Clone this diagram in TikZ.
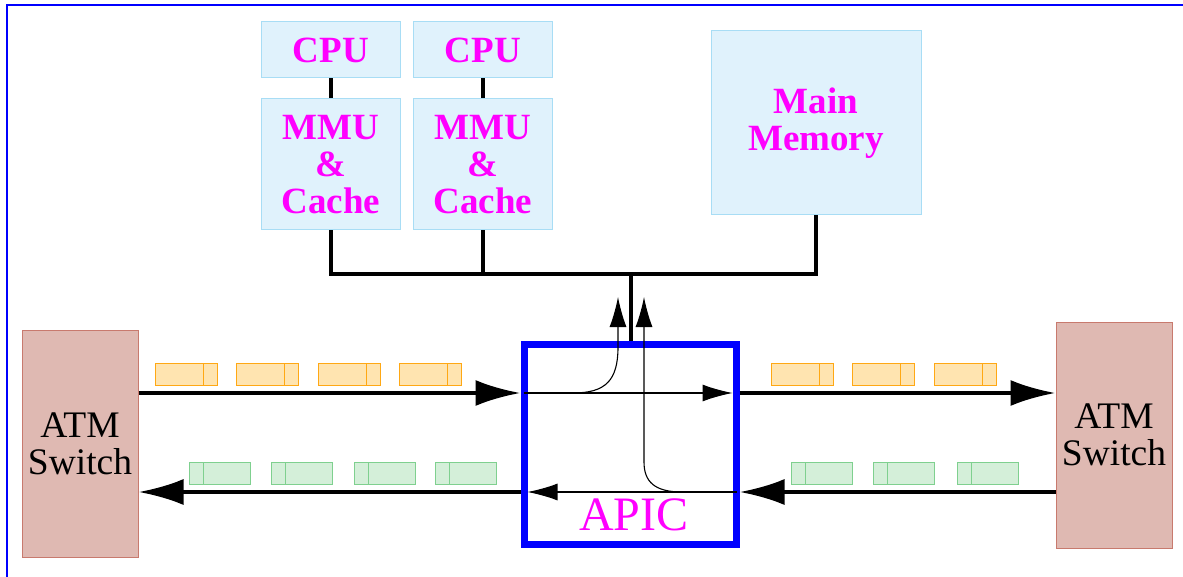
\documentclass[tikz,border=0pt]{standalone}
\usepackage{fontspec}
\setmainfont{Liberation Serif}
\usetikzlibrary{arrows.meta}
\definecolor{boxfill}{RGB}{224,242,252}
\definecolor{boxline}{RGB}{168,221,245}
\definecolor{atmfill}{RGB}{223,185,178}
\definecolor{atmline}{RGB}{200,122,110}
\definecolor{orfill}{RGB}{255,228,176}
\definecolor{orline}{RGB}{255,168,20}
\definecolor{grfill}{RGB}{212,239,217}
\definecolor{grline}{RGB}{127,208,143}
\definecolor{mag}{RGB}{255,0,255}
\definecolor{frameblue}{RGB}{0,0,255}
\tikzset{
  unit/.style={draw=boxline,fill=boxfill,line width=1pt,inner sep=0pt,align=center,
    text=mag,font=\fontsize{37}{37}\selectfont\bfseries},
  atm/.style={draw=atmline,fill=atmfill,line width=1pt,inner sep=0pt,align=center,
    minimum width=116pt,font=\fontsize{37.5}{37}\selectfont},
  apicbox/.style={draw=frameblue,line width=7pt,minimum width=212pt,minimum height=200pt,inner sep=0pt},
  busline/.style={line width=4pt},
  bigarrow/.style={line width=4pt,-{Latex[length=45pt,width=26pt]}},
  thinarrow/.style={line width=1.1pt,-{Latex[length=30pt,width=17pt]}},
  orcell/.style={draw=orline,fill=orfill,line width=1pt},
  grcell/.style={draw=grline,fill=grfill,line width=1pt},
}
\begin{document}
\begin{tikzpicture}[x=1pt,y=-1pt]
\useasboundingbox (0,0) rectangle (1183,577);
\draw[frameblue,line width=2pt] (7,577) -- (7,5) -- (1183,5);

% units
\node[unit,minimum width=139pt,minimum height=56pt] (cpu1) at (331,50) {CPU};
\node[unit,minimum width=139pt,minimum height=56pt] (cpu2) at (483,50) {CPU};
\node[unit,minimum width=139pt,minimum height=131pt] (mmu1) at (331,164.5) {MMU\\\&\\Cache};
\node[unit,minimum width=139pt,minimum height=131pt] (mmu2) at (483,164.5) {MMU\\\&\\Cache};
\node[unit,minimum width=210pt,minimum height=184pt] (mem) at (816,123) {Main\\Memory};

\node[atm,minimum height=227pt] (atmL) at (80,443.5) {ATM\\Switch};
\node[atm,minimum height=226pt] (atmR) at (1114,435) {ATM\\Switch};

\node[apicbox] (apic) at (630,444) {};
\node[text=mag,font=\fontsize{48}{48}\selectfont,anchor=base] (apiclabel) at (634,530) {APIC};

% bus
\coordinate (bus) at (631,274);
\draw[busline] (cpu1.south) -- (mmu1.north);
\draw[busline] (cpu2.south) -- (mmu2.north);
\draw[busline] (mmu1.south) |- (mem.south |- bus) -- (mem.south);
\draw[busline] (mmu2.south) -- (mmu2.south |- bus);
\draw[busline] (bus) -- (bus |- apic.north);

% rows
\coordinate (rowA) at (0,393);
\coordinate (rowB) at (0,492);

% cells
\foreach \x in {155,236,318,399,771,852,934}{
  \draw[orcell] (\x,363) rectangle ++(62,22);
  \draw[orline,line width=1pt] (\x+48,363) -- (\x+48,385);
}
\foreach \x in {189,271,354,435,791,873,957}{
  \draw[grcell] (\x,462) rectangle ++(61,22);
  \draw[grline,line width=1pt] (\x+14,462) -- (\x+14,484);
}

% thick arrows
\draw[bigarrow] (atmL.east |- rowA) -- (apic.west |- rowA);
\draw[bigarrow] (apic.east |- rowA) -- (atmR.west |- rowA);
\draw[bigarrow] (atmR.west |- rowB) -- (apic.east |- rowB);
\draw[bigarrow] (apic.west |- rowB) -- (atmL.east |- rowB);

% internal paths
\coordinate (upA) at (618,297);
\coordinate (upB) at (644,297);
\draw[thinarrow] ([xshift=3pt]apic.west |- rowA) -- ([xshift=-7pt]apic.east |- rowA);
\draw[thinarrow] ([xshift=-3pt]apic.east |- rowB) -- ([xshift=7pt]apic.west |- rowB);
\draw[thinarrow] (573,393) .. controls (606,393) and (618,380) .. (618,347) -- (upA);
\draw[thinarrow] (682,492) .. controls (655,492) and (644,482) .. (644,462) -- (upB);
\end{tikzpicture}
\end{document}
